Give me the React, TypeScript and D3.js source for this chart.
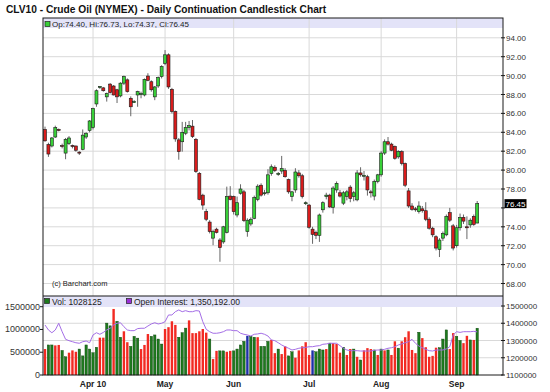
import React from "react";
import * as d3 from "d3";

const W = 550;
const H = 392;

// trading calendar of the chart (NYMEX, 2010)
const firstDay = "2010-03-12";
const lastDay = "2010-09-10";
const holidays = ["2010-04-02", "2010-05-31", "2010-07-05", "2010-09-06"];

const open = [
  84.3, 82.7, 82.55, 83.5, 84.3, 82.6, 81.8, 82.8, 82.6, 82.55,
  81.9, 82.2, 83.5, 84.2, 84.5, 87.0, 88.75, 88.7, 87.75, 89.1,
  88.9, 88.5, 87.85, 89.2, 89.55, 87.6, 87.2, 87.95, 88.0, 87.95,
  89.95, 89.35, 87.75, 88.9, 89.9, 91.3, 92.2, 88.55, 86.2, 83.2,
  83.0, 83.9, 84.5, 84.65, 83.25, 79.65, 77.35, 75.6, 74.5, 72.8,
  73.75, 72.6, 72.4, 73.4, 77.25, 77.2, 75.25, 77.55, 77.7, 73.5,
  74.3, 74.9, 76.9, 78.4, 77.5, 77.6, 79.65, 80.3, 79.6, 79.9,
  79.95, 79.0, 77.2, 77.9, 79.7, 79.4, 76.5, 76.3, 73.75, 73.4,
  73.1, 75.8, 77.2, 77.35, 76.05, 77.9, 77.6, 76.5, 77.2, 78.2,
  77.2, 76.85, 79.7, 79.4, 79.3, 77.7, 77.25, 78.8, 79.5, 81.8,
  83.0, 82.75, 82.5, 81.4, 81.95, 80.7, 77.8, 76.2, 75.9, 75.6,
  75.9, 75.7, 74.8, 73.85, 72.95, 71.6, 72.8, 73.15, 75.5, 74.1,
  72.0, 73.9, 75.0, 74.0, 74.2, 75.1, 74.4,
];
const high = [
  84.6, 82.9, 83.5, 84.7, 84.4, 82.8, 83.4, 83.6, 82.7, 82.6,
  82.0, 84.3, 84.0, 85.3, 86.6, 88.55, 88.9, 88.8, 88.2, 89.2,
  89.0, 88.6, 89.3, 90.0, 89.7, 87.8, 87.4, 88.4, 88.3, 89.7,
  90.25, 89.5, 88.9, 89.9, 91.1, 92.7, 92.35, 88.7, 86.3, 83.4,
  85.1, 85.1, 85.2, 85.3, 83.4, 79.8, 77.5, 75.9, 74.7, 73.7,
  73.9, 72.8, 74.1, 78.25, 78.3, 77.3, 77.2, 78.5, 77.9, 74.9,
  75.0, 77.3, 78.5, 78.6, 77.9, 80.1, 80.6, 80.5, 79.8, 81.5,
  80.2, 79.1, 77.8, 80.2, 80.0, 79.6, 76.7, 76.4, 74.0, 73.6,
  75.4, 76.7, 77.6, 77.5, 78.3, 78.8, 77.9, 77.8, 77.9, 78.4,
  77.8, 80.0, 80.3, 79.9, 79.5, 77.9, 79.0, 79.6, 82.0, 83.25,
  83.5, 82.9, 82.6, 82.1, 82.1, 80.8, 78.1, 76.5, 76.1, 76.7,
  76.2, 76.6, 75.0, 74.0, 73.1, 72.8, 73.5, 75.3, 76.0, 74.3,
  74.2, 75.4, 75.3, 75.1, 74.9, 75.3, 76.73,
];
const low = [
  83.0, 81.4, 82.4, 83.4, 84.1, 82.3, 81.15, 82.65, 82.3, 81.95,
  81.6, 82.1, 83.3, 84.0, 84.3, 86.7, 88.6, 88.3, 87.25, 88.1,
  87.9, 87.1, 87.7, 89.0, 88.2, 85.7, 87.1, 86.7, 87.6, 87.8,
  89.4, 88.3, 87.4, 88.7, 89.7, 91.1, 88.6, 86.0, 83.0, 81.1,
  81.95, 83.7, 84.2, 83.4, 79.7, 76.8, 75.8, 74.6, 73.3, 72.05,
  73.3, 70.3, 72.2, 73.3, 76.8, 75.3, 75.0, 77.4, 74.5, 72.95,
  74.1, 74.8, 76.7, 77.2, 77.3, 77.4, 79.4, 79.8, 79.4, 79.6,
  79.2, 77.5, 76.7, 77.6, 79.2, 77.0, 76.3, 73.8, 72.2, 72.7,
  72.4, 75.5, 76.9, 76.0, 75.4, 77.6, 77.1, 76.3, 76.8, 76.6,
  76.7, 76.7, 79.3, 78.9, 77.3, 77.1, 76.8, 78.6, 79.3, 81.6,
  82.6, 82.0, 81.1, 81.2, 80.5, 78.2, 76.0, 75.7, 75.6, 75.4,
  75.5, 74.6, 73.7, 72.9, 71.5, 70.8, 72.5, 73.0, 74.5, 71.5,
  71.8, 73.6, 74.3, 72.7, 73.9, 74.1, 74.37,
];
const close = [
  83.1, 81.7, 83.4, 84.5, 84.2, 82.5, 83.25, 83.4, 82.5, 82.1,
  81.85, 83.7, 83.9, 85.2, 86.5, 88.4, 88.85, 88.4, 88.1, 88.2,
  87.95, 87.75, 89.2, 89.9, 88.3, 86.7, 87.25, 88.3, 88.1, 89.6,
  89.5, 88.5, 88.8, 89.8, 90.95, 92.2, 88.8, 86.2, 83.3, 81.95,
  84.0, 84.5, 84.7, 83.55, 79.85, 76.9, 76.3, 74.8, 73.5, 73.5,
  73.4, 71.8, 74.0, 77.2, 76.9, 75.6, 76.55, 78.0, 74.65, 74.7,
  74.8, 77.1, 78.3, 77.35, 77.6, 79.5, 80.35, 79.95, 79.65, 80.15,
  79.3, 77.7, 77.7, 79.8, 79.4, 77.2, 76.55, 73.95, 73.2, 73.1,
  75.25, 76.55, 77.35, 76.1, 78.1, 78.6, 77.25, 77.6, 77.7, 77.0,
  77.6, 79.7, 79.5, 79.45, 77.9, 77.6, 78.8, 79.5, 81.8, 83.0,
  82.75, 82.1, 81.25, 81.95, 80.7, 78.4, 76.2, 75.85, 75.85, 76.2,
  75.7, 74.8, 73.85, 73.15, 71.75, 72.6, 73.3, 75.1, 74.7, 71.75,
  73.9, 75.0, 74.6, 73.9, 74.7, 74.25, 76.45,
];

// volume, thousands of contracts
const volumeK = [
  570, 660, 660, 650, 660, 540, 400, 490, 540, 510,
  570, 420, 660, 570, 490, 610, 820, 820, 1140, 1080,
  1450, 1180, 830, 960, 720, 630, 850, 810, 570, 660,
  900, 850, 880, 790, 680, 1010, 1050, 1180, 1100, 830,
  930, 1030, 1200, 920, 920, 960, 1010, 930, 790, 350,
  530, 530, 530, 510, 530, 530, 570, 660, 740, 860,
  850, 830, 830, 630, 630, 740, 770, 480, 570, 460,
  630, 420, 510, 380, 540, 630, 720, 440, 540, 510,
  570, 550, 570, 700, 700, 680, 490, 610, 440, 570,
  570, 400, 330, 540, 590, 570, 550, 440, 570, 540,
  550, 440, 740, 590, 740, 830, 960, 550, 480, 940,
  810, 610, 400, 420, 600, 600, 790, 990, 570, 920,
  850, 760, 700, 860, 770, 770, 1028.125,
];
// g = up day, r = down day, b = unchanged
const volumeTone =
  "rggrrggrrrggggggrrggrggrrgggrrrggggrrrrgggrrrrrrgrrggrrggggbggrggg" +
  "rrgrrggrrrrrbgggrgrrrgrrgrgrrrgrgrgrrgrrrrrgrrrrrgggrrggrrgrg";

// open interest, thousands of contracts
const openInterestK = [
  1390, 1361, 1345, 1361, 1400, 1351, 1307, 1299, 1293, 1287,
  1284, 1293, 1297, 1287, 1332, 1345, 1336, 1347, 1361, 1371,
  1390, 1400, 1403, 1380, 1361, 1357, 1357, 1369, 1371, 1371,
  1384, 1396, 1403, 1396, 1400, 1409, 1448, 1448, 1467, 1477,
  1467, 1473, 1467, 1467, 1473, 1471, 1409, 1365, 1351, 1342,
  1342, 1345, 1351, 1361, 1361, 1357, 1357, 1342, 1336, 1332,
  1326, 1336, 1338, 1342, 1336, 1326, 1303, 1299, 1287, 1274,
  1264, 1255, 1245, 1249, 1255, 1258, 1260, 1264, 1264, 1268,
  1270, 1278, 1280, 1284, 1284, 1284, 1270, 1255, 1245, 1241,
  1241, 1241, 1239, 1239, 1239, 1239, 1243, 1245, 1245, 1249,
  1255, 1258, 1264, 1274, 1280, 1287, 1293, 1307, 1284, 1268,
  1258, 1249, 1241, 1239, 1245, 1245, 1245, 1251, 1264, 1332,
  1351, 1347, 1351, 1351, 1351, 1353, 1350.192,
];

const priceTicks = d3.range(68, 95, 2);
const volumeTicks = [0, 500000, 1000000, 1500000];
const oiTicks = [1100000, 1200000, 1300000, 1400000, 1500000];

const FONT = "Arial, 'Liberation Sans', sans-serif";
const GRID = "#d9d9d9";
const BAND = "#e3e3f8";
const FRAME = "#1a1a1a";

function tradingDays() {
  const fmt = d3.utcFormat("%Y-%m-%d");
  return d3.utcDay
    .range(new Date(firstDay), d3.utcDay.offset(new Date(lastDay), 1))
    .filter((d) => d.getUTCDay() !== 0 && d.getUTCDay() !== 6 && !holidays.includes(fmt(d)));
}

export default function App() {
  const days = tradingDays();
  const n = days.length;
  const last = n - 1;

  const left = 43;
  const right = 503;
  const priceTop = 18;
  const volTop = 296;
  const volBottom = 375;

  const x = d3.scalePoint<number>().domain(d3.range(n)).range([45, 477.2]);
  const yP = d3.scaleLinear().domain([68, 94]).range([283.5, 37.8]);
  const yV = d3.scaleLinear().domain([0, 1500000]).range([volBottom, 306.7]);
  const yOI = d3.scaleLinear().domain([1100000, 1500000]).range([volBottom, 306]);

  const monthStarts = d3
    .range(1, n)
    .filter((i) => days[i].getUTCMonth() !== days[i - 1].getUTCMonth());
  const monthLabel = (i: number, k: number) =>
    k === 0 ? d3.utcFormat("%b %y")(days[i]) : d3.utcFormat("%b")(days[i]);

  const oiLine = d3
    .line<number>()
    .x((_, i) => x(i)!)
    .y((v) => yOI(v * 1000));

  const upFill = "#38d038";
  const downFill = "#d91c1c";
  const toneFill: Record<string, string> = { g: "#1d7a1d", r: "#f22a22", b: "#1f2fa8" };
  const lastY = yP(close[last]);

  return (
    <svg
      width={W}
      height={H}
      style={{ position: "absolute", left: 0, top: 0, background: "#fff" }}
      fontFamily={FONT}
    >
      <rect width={W} height={H} fill="#fff" />
      <text x={6} y={13} fontSize={10.2} fontWeight="bold" fill="#111">
        CLV10 - Crude Oil (NYMEX) - Daily Continuation Candlestick Chart
      </text>

      {/* price panel */}
      <rect x={left} y={priceTop} width={right - left} height={10} fill={BAND} />
      {priceTicks.map((t) => (
        <line key={t} x1={left} x2={right} y1={yP(t)} y2={yP(t)} stroke={GRID} />
      ))}
      {monthStarts.map((i) => (
        <line key={i} x1={x(i)} x2={x(i)} y1={priceTop} y2={volBottom} stroke={GRID} />
      ))}
      <rect x={left} y={volTop} width={right - left} height={11} fill={BAND} />
      {oiTicks.slice(1, 4).map((t) => (
        <line key={t} x1={left} x2={right} y1={yOI(t)} y2={yOI(t)} stroke={GRID} />
      ))}

      <rect x={45} y={21.5} width={5} height={5} fill={upFill} stroke="#222" strokeWidth={0.7} />
      <text x={52} y={26.5} fontSize={8} fill="#222">
        {`Op:${open[last].toFixed(2)}, Hi:${high[last].toFixed(2)}, Lo:${low[last].toFixed(2)}, Cl:${close[last].toFixed(2)}`}
      </text>
      <text x={52} y={286} fontSize={7.5} fill="#222">
        (c) Barchart.com
      </text>

      {days.map((_, i) => {
        const cx = x(i)!;
        const up = close[i] >= open[i];
        const top = yP(Math.max(open[i], close[i]));
        const bot = yP(Math.min(open[i], close[i]));
        return (
          <g key={i}>
            <line x1={cx} x2={cx} y1={yP(high[i])} y2={yP(low[i])} stroke="#555" strokeWidth={0.9} />
            <rect
              x={cx - 1.5}
              y={top}
              width={3}
              height={Math.max(1, bot - top)}
              fill={up ? upFill : downFill}
              stroke="#1a1a1a"
              strokeWidth={0.6}
            />
          </g>
        );
      })}

      {/* volume panel */}
      {days.map((_, i) => {
        const v = volumeK[i] * 1000;
        const c = volumeTone[i] || "g";
        return (
          <rect
            key={i}
            x={x(i)! - 1.2}
            y={yV(v)}
            width={2.4}
            height={volBottom - yV(v)}
            fill={toneFill[c]}
            stroke={c === "g" ? "#0d400d" : "none"}
            strokeWidth={0.4}
          />
        );
      })}
      <path d={oiLine(openInterestK) || ""} fill="none" stroke="#a46ee6" strokeWidth={1} />

      <rect x={44.5} y={298.5} width={5} height={5} fill="#1d7a1d" stroke="#222" strokeWidth={0.7} />
      <text x={52} y={304.5} fontSize={8.5} fill="#222">
        {`Vol: ${Math.round(volumeK[last] * 1000)}`}
      </text>
      <rect x={126.5} y={298.5} width={5} height={5} fill="#9b30d9" stroke="#222" strokeWidth={0.7} />
      <text x={134} y={304.5} fontSize={8.5} fill="#222">
        {`Open Interest: ${d3.format(",.2f")(openInterestK[last] * 1000)}`}
      </text>

      {/* frames */}
      <rect x={left} y={priceTop} width={right - left} height={volBottom - priceTop} fill="none" stroke={FRAME} />
      <line x1={left} x2={right} y1={volTop} y2={volTop} stroke={FRAME} strokeWidth={1.2} />

      {/* right price axis; a label under the last-price box is hidden */}
      {priceTicks.map((t) => (
        <g key={t}>
          <line x1={right - 2} x2={right + 2} y1={yP(t)} y2={yP(t)} stroke={FRAME} />
          {Math.abs(yP(t) - lastY) > 9 && (
            <text x={506} y={yP(t) + 3} fontSize={8} fill="#333">
              {t.toFixed(2)}
            </text>
          )}
        </g>
      ))}
      <rect x={504.5} y={lastY - 4.5} width={22} height={9} fill="#000" />
      <text x={505.5} y={lastY + 3} fontSize={8} fill="#fff">
        {close[last].toFixed(2)}
      </text>

      {/* volume axes */}
      {volumeTicks.map((t) => (
        <g key={t}>
          <line x1={left - 3} x2={left} y1={yV(t)} y2={yV(t)} stroke={FRAME} />
          <text x={40} y={yV(t) + 3} fontSize={9} fill="#333" textAnchor="end">
            {t}
          </text>
        </g>
      ))}
      {oiTicks.map((t) => (
        <g key={t}>
          <line x1={right - 2} x2={right + 2} y1={yOI(t)} y2={yOI(t)} stroke={FRAME} />
          <text x={506} y={yOI(t) + 3} fontSize={8} fill="#333">
            {t}
          </text>
        </g>
      ))}

      {/* time axis */}
      {monthStarts.map((i, k) => (
        <text key={i} x={x(i)} y={387} fontSize={8.5} fontWeight="bold" fill="#222" textAnchor="middle">
          {monthLabel(i, k)}
        </text>
      ))}
    </svg>
  );
}
